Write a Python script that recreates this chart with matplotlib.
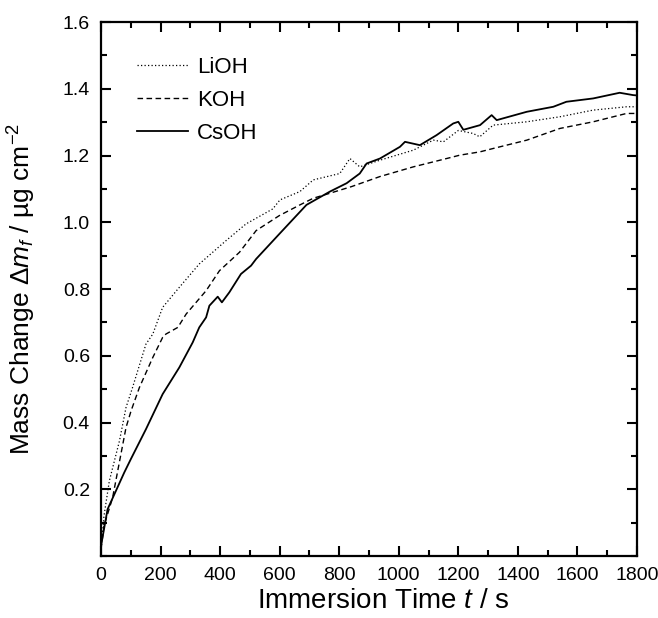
import numpy as np
import matplotlib.pyplot as plt
from matplotlib.ticker import MultipleLocator

plt.rcParams['font.family'] = ['Liberation Sans', 'DejaVu Sans']
plt.rcParams['mathtext.fontset'] = 'custom'
plt.rcParams['mathtext.rm'] = 'Liberation Sans'
plt.rcParams['mathtext.it'] = 'Liberation Sans:italic'

## valores (tempo em s, variação de massa em ug/cm2)
t_lioh = [0, 10, 28, 62, 84, 106, 151, 174, 207, 263, 330, 420, 487, 577, 601, 668,
          713, 802, 836, 869, 937, 1049, 1116, 1150, 1200, 1250, 1272, 1317, 1430,
          1541, 1653, 1765, 1800]
m_lioh = [0.02, 0.12, 0.225, 0.345, 0.445, 0.505, 0.635, 0.665, 0.745, 0.805, 0.875,
          0.945, 0.995, 1.04, 1.067, 1.092, 1.127, 1.146, 1.191, 1.166, 1.186, 1.216,
          1.246, 1.241, 1.275, 1.266, 1.256, 1.291, 1.301, 1.316, 1.336, 1.346, 1.346]

t_koh = [0, 10, 39, 84, 101, 129, 174, 207, 218, 258, 286, 353, 398, 465, 521, 599,
         668, 713, 769, 842, 937, 1049, 1161, 1205, 1273, 1317, 1430, 1541, 1653,
         1765, 1800]
m_koh = [0.02, 0.09, 0.175, 0.385, 0.435, 0.505, 0.595, 0.655, 0.665, 0.685, 0.725,
         0.795, 0.855, 0.91, 0.975, 1.02, 1.052, 1.072, 1.087, 1.107, 1.137, 1.166,
         1.191, 1.201, 1.211, 1.221, 1.246, 1.281, 1.301, 1.326, 1.326]

t_csoh = [0, 22, 78, 100, 151, 207, 263, 308, 330, 353, 364, 392, 406, 431, 470, 504,
          521, 599, 690, 769, 825, 869, 892, 937, 1004, 1021, 1071, 1127, 1183, 1200,
          1217, 1273, 1312, 1329, 1430, 1519, 1563, 1653, 1742, 1787, 1800]
m_csoh = [0.03, 0.14, 0.25, 0.29, 0.38, 0.485, 0.565, 0.64, 0.685, 0.715, 0.75, 0.777,
          0.76, 0.79, 0.845, 0.87, 0.89, 0.965, 1.052, 1.092, 1.117, 1.146, 1.176,
          1.191, 1.226, 1.241, 1.231, 1.261, 1.296, 1.301, 1.277, 1.291, 1.321, 1.306,
          1.331, 1.346, 1.361, 1.371, 1.388, 1.381, 1.38]

fig = plt.figure(figsize=(6.58, 6.18), dpi=100)
ax = fig.add_axes([0.1535, 0.1003, 0.8145, 0.8641])

ax.plot(t_lioh, m_lioh, color='black', linestyle=(0, (1, 1.8)), linewidth=0.9, label='LiOH')
ax.plot(t_koh, m_koh, color='black', linestyle=(0, (4, 2.5)), linewidth=1.0, label='KOH')
ax.plot(t_csoh, m_csoh, color='black', linestyle='-', linewidth=1.3, label='CsOH')

ax.set_xlim(0, 1800)
ax.set_ylim(0, 1.6)
ax.set_xticks(np.arange(0, 1801, 200))
ax.set_yticks(np.arange(0.2, 1.61, 0.2))
ax.xaxis.set_minor_locator(MultipleLocator(100))
ax.yaxis.set_minor_locator(MultipleLocator(0.1))
ax.tick_params(which='both', direction='in', top=True, right=True, width=1.5, labelsize=14)
ax.tick_params(which='major', length=7, pad=8)
ax.tick_params(which='minor', length=4)
for s in ax.spines.values():
    s.set_linewidth(1.6)

ax.set_xlabel('Immersion Time $\\it{t}$ / s', fontsize=20)
ax.xaxis.set_label_coords(0.526, -0.06)
ax.set_ylabel('Mass Change $\\mathit{Δm_f}$ / µg cm$^{-2}$', fontsize=19, labelpad=18)

ax.legend(loc='upper left', bbox_to_anchor=(0.067, 0.935), frameon=False, fontsize=16,
          borderpad=0, borderaxespad=0, handlelength=2.3, handletextpad=0.4,
          labelspacing=0.55)

plt.savefig('out.png', dpi=100)
